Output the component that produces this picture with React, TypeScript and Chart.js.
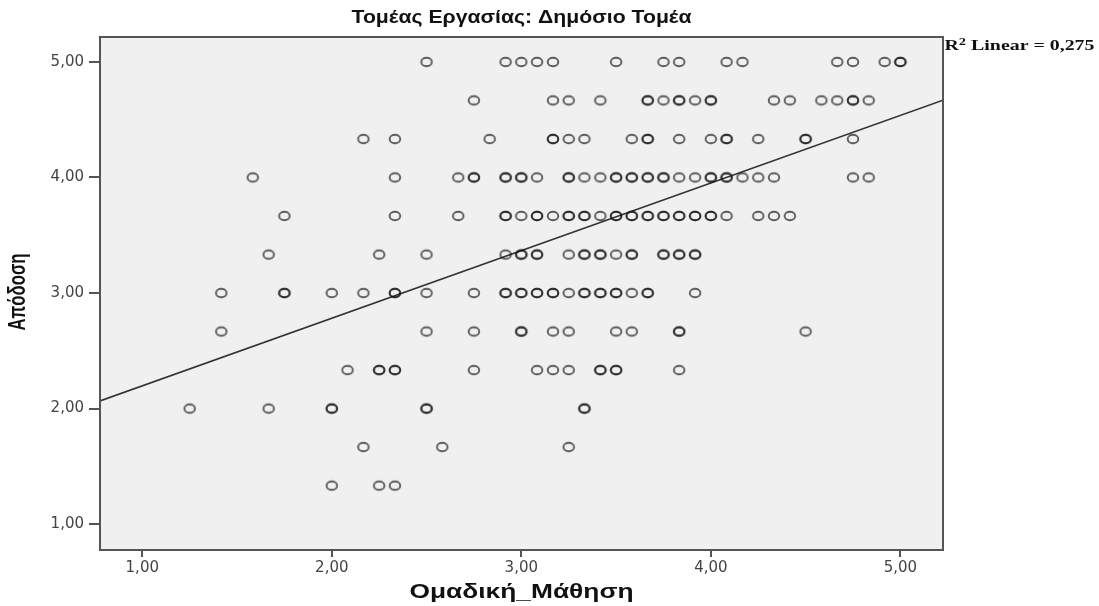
import React, { useEffect, useRef } from 'react';
import { Chart, registerables } from 'chart.js';

Chart.register(...registerables);

// ---- text ----
const chartTitle = 'Τομέας Εργασίας: Δημόσιο Τομέα';
const xTitle = 'Ομαδική_Μάθηση';
const yTitle = 'Απόδοση';
const r2Text = ' Linear = 0,275';

// ---- axes ----
const xTicks = [1, 2, 3, 4, 5];
const yTicks = [1, 2, 3, 4, 5];
const xMin = 0.777;
const xMax = 5.225;
const yMin = 0.776;
const yMax = 5.216;

// ---- fit line (R² Linear = 0,275) ----
const fitIntercept = 1.612;
const fitSlope = 0.585;

// ---- data: one x-list per y level (repeated values = overlapping cases) ----
const yLevels = [5, 4.667, 4.333, 4, 3.667, 3.333, 3, 2.667, 2.333, 2, 1.667, 1.333];

const row500 = [2.5, 2.917, 3.0, 3.083, 3.167, 3.5, 3.75, 3.833, 4.083, 4.167, 4.667, 4.75, 4.917, 5.0, 5.0];
const row467 = [2.75, 3.167, 3.25, 3.417, 3.667, 3.667, 3.75, 3.833, 3.833, 3.917, 4.0, 4.0, 4.333, 4.417, 4.583, 4.667, 4.75, 4.75, 4.833];
const row433 = [2.167, 2.333, 2.833, 3.167, 3.167, 3.25, 3.333, 3.583, 3.667, 3.667, 3.833, 4.0, 4.083, 4.083, 4.25, 4.5, 4.5, 4.75];
const row400 = [1.583, 2.333, 2.667, 2.75, 2.75, 2.917, 2.917, 3.0, 3.0, 3.083, 3.25, 3.25, 3.333, 3.417, 3.5, 3.5, 3.583, 3.583, 3.667, 3.667, 3.75, 3.75, 3.833, 3.917, 4.0, 4.0, 4.083, 4.083, 4.167, 4.25, 4.333, 4.75, 4.833];
const row367 = [1.75, 2.333, 2.667, 2.917, 2.917, 3.0, 3.083, 3.083, 3.167, 3.25, 3.25, 3.333, 3.333, 3.417, 3.5, 3.5, 3.583, 3.583, 3.667, 3.667, 3.75, 3.75, 3.833, 3.833, 3.917, 3.917, 4.0, 4.0, 4.083, 4.25, 4.333, 4.417];
const row333 = [1.667, 2.25, 2.5, 2.917, 3.0, 3.0, 3.083, 3.083, 3.25, 3.333, 3.333, 3.417, 3.417, 3.5, 3.583, 3.583, 3.75, 3.75, 3.833, 3.833, 3.917, 3.917];
const row300 = [1.417, 1.75, 1.75, 2.0, 2.167, 2.333, 2.333, 2.5, 2.75, 2.917, 2.917, 3.0, 3.0, 3.083, 3.083, 3.167, 3.167, 3.25, 3.333, 3.333, 3.417, 3.417, 3.5, 3.5, 3.583, 3.667, 3.667, 3.917];
const row267 = [1.417, 2.5, 2.75, 3.0, 3.0, 3.167, 3.25, 3.5, 3.583, 3.833, 3.833, 4.5];
const row233 = [2.083, 2.25, 2.25, 2.333, 2.333, 2.75, 3.083, 3.167, 3.25, 3.417, 3.417, 3.5, 3.5, 3.833];
const row200 = [1.25, 1.667, 2.0, 2.0, 2.5, 2.5, 3.333, 3.333];
const row167 = [2.167, 2.583, 3.25];
const row133 = [2.0, 2.25, 2.333];

const rows = [row500, row467, row433, row400, row367, row333, row300, row267, row233, row200, row167, row133];

const fmt = (v: number) => v.toFixed(2).replace('.', ',');

function makeMarker(): HTMLCanvasElement {
  const c = document.createElement('canvas');
  c.width = 16;
  c.height = 14;
  const g = c.getContext('2d')!;
  g.strokeStyle = 'rgba(20,20,20,0.68)';
  g.lineWidth = 1.9;
  g.beginPath();
  g.ellipse(8, 7, 5.3, 4.2, 0, 0, Math.PI * 2);
  g.stroke();
  return c;
}

function drawFitted(ctx: CanvasRenderingContext2D, text: string, cx: number, cy: number, font: string, targetW: number, color: string) {
  ctx.save();
  ctx.font = font;
  const w = ctx.measureText(text).width;
  ctx.translate(cx, cy);
  ctx.scale(targetW / w, 1);
  ctx.fillStyle = color;
  ctx.textAlign = 'center';
  ctx.textBaseline = 'middle';
  ctx.fillText(text, 0, 0);
  ctx.restore();
}

const decorPlugin = {
  id: 'decor',
  beforeDraw(chart: any) {
    const { ctx, chartArea: a } = chart;
    ctx.save();
    ctx.fillStyle = '#ffffff';
    ctx.fillRect(0, 0, chart.width, chart.height);
    ctx.fillStyle = '#f0f0f0';
    ctx.fillRect(a.left, a.top, a.right - a.left, a.bottom - a.top);
    ctx.restore();
  },
  afterDraw(chart: any) {
    const { ctx, chartArea: a } = chart;
    ctx.save();
    ctx.strokeStyle = '#555555';
    ctx.lineWidth = 2;
    ctx.strokeRect(a.left, a.top, a.right - a.left, a.bottom - a.top);
    ctx.restore();

    // chart title
    drawFitted(ctx, chartTitle, (a.left + a.right) / 2, 18, 'bold 18px "Liberation Sans", Arial, sans-serif', 340, '#111');
    // x title
    drawFitted(ctx, xTitle, (a.left + a.right) / 2, 592, 'bold 21px "Liberation Sans", Arial, sans-serif', 224, '#111');

    // y title (rotated, stretched horizontally)
    ctx.save();
    ctx.font = 'bold 17px "Liberation Sans", Arial, sans-serif';
    const yw = ctx.measureText(yTitle).width;
    ctx.translate(18, 292);
    ctx.scale(1.4, 77 / yw);
    ctx.rotate(-Math.PI / 2);
    ctx.fillStyle = '#111';
    ctx.textAlign = 'center';
    ctx.textBaseline = 'middle';
    ctx.fillText(yTitle, 0, 0);
    ctx.restore();

    // R² label
    ctx.save();
    const big = 'bold 14.5px "Liberation Serif", "Times New Roman", serif';
    const small = 'bold 10.5px "Liberation Serif", "Times New Roman", serif';
    ctx.font = big;
    const wR = ctx.measureText('R').width;
    const wT = ctx.measureText(r2Text).width;
    ctx.font = small;
    const w2 = ctx.measureText('2').width;
    const total = wR + w2 + wT;
    ctx.translate(a.right + 1.5, 50);
    ctx.scale(150 / total, 1);
    ctx.fillStyle = '#111';
    ctx.textAlign = 'left';
    ctx.textBaseline = 'alphabetic';
    ctx.font = big;
    ctx.fillText('R', 0, 0);
    ctx.font = small;
    ctx.fillText('2', wR, -5.5);
    ctx.font = big;
    ctx.fillText(r2Text, wR + w2, 0);
    ctx.restore();
  },
};

export default function App() {
  const ref = useRef<HTMLCanvasElement | null>(null);

  useEffect(() => {
    document.body.style.margin = '0';
    const canvas = ref.current!;
    const marker = makeMarker();
    const points = rows.flatMap((xs, i) => xs.map((x) => ({ x, y: yLevels[i] })));
    const fitLine = [
      { x: xMin, y: fitIntercept + fitSlope * xMin },
      { x: xMax, y: fitIntercept + fitSlope * xMax },
    ];
    const tickFont = { family: '"DejaVu Sans", Verdana, sans-serif', size: 15 };

    const chart = new Chart(canvas, {
      type: 'scatter',
      data: {
        datasets: [
          {
            type: 'line',
            data: fitLine,
            borderColor: '#333333',
            borderWidth: 1.6,
            pointRadius: 0,
            fill: false,
            order: 2,
          } as any,
          {
            type: 'scatter',
            data: points,
            pointStyle: marker as any,
            pointRadius: 5,
            order: 1,
          },
        ],
      },
      options: {
        animation: false,
        responsive: false,
        devicePixelRatio: 1,
        events: [],
        layout: { padding: { top: 37, right: 156, left: 0, bottom: 0 } },
        plugins: { legend: { display: false }, tooltip: { enabled: false }, title: { display: false } },
        scales: {
          x: {
            type: 'linear',
            min: xMin,
            max: xMax,
            afterBuildTicks: (s: any) => {
              s.ticks = xTicks.map((v) => ({ value: v }));
            },
            afterFit: (s: any) => {
              s.height = 56;
            },
            ticks: {
              callback: (v: any) => fmt(Number(v)),
              font: tickFont,
              color: '#444',
              padding: 2,
              maxRotation: 0,
              autoSkip: false,
            },
            grid: { drawOnChartArea: false, drawTicks: true, tickLength: 7, color: '#555', lineWidth: 2 },
            border: { display: true, color: '#555', width: 2 },
          },
          y: {
            type: 'linear',
            min: yMin,
            max: yMax,
            afterBuildTicks: (s: any) => {
              s.ticks = yTicks.map((v) => ({ value: v }));
            },
            afterFit: (s: any) => {
              s.width = 100;
            },
            ticks: {
              callback: (v: any) => fmt(Number(v)),
              font: tickFont,
              color: '#444',
              padding: 5,
              autoSkip: false,
            },
            grid: { drawOnChartArea: false, drawTicks: true, tickLength: 11, color: '#555', lineWidth: 2 },
            border: { display: true, color: '#555', width: 2 },
          },
        },
      },
      plugins: [decorPlugin],
    });
    return () => chart.destroy();
  }, []);

  return (
    <div style={{ width: 1099, height: 606 }}>
      <canvas ref={ref} width={1099} height={606} style={{ display: 'block', width: 1099, height: 606 }} />
    </div>
  );
}
